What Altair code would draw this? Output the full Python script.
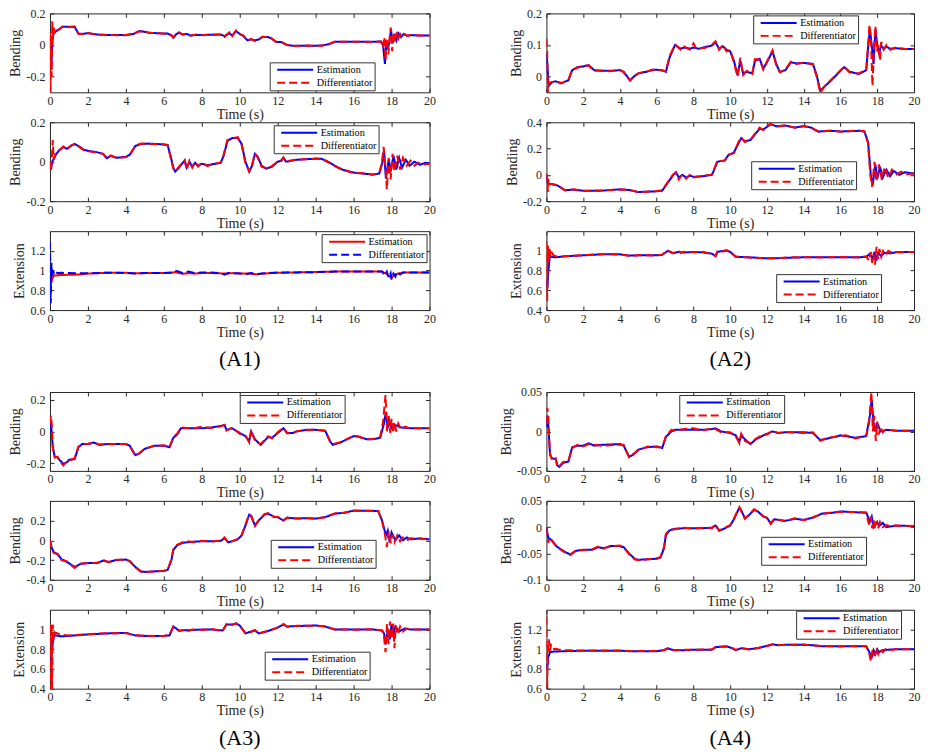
import altair as alt
import pandas as pd

FONT = "Liberation Serif"
BLUE = "#0000FF"
RED = "#FF0000"
AXC = "#262626"
WL, WR, H = 380, 368, 79

SERIES = ["Estimation", "Differentiator"]
X_TICKS = [0, 2, 4, 6, 8, 10, 12, 14, 16, 18, 20]

# ---------------- data (t, value) ----------------
A1R1_EST = [(0,0.05),(0.03,-0.05),(0.06,-0.16),(0.1,-0.05),(0.15,0.05),(0.2,0.075),(0.35,0.09),(0.5,0.1),(0.65,0.115),(1.0,0.115),(1.3,0.115),(1.5,0.072),(1.7,0.07),(2.0,0.075),(2.5,0.066),(3.0,0.063),(3.5,0.063),(4.0,0.062),(4.4,0.07),(4.7,0.088),(4.9,0.085),(5.2,0.078),(5.7,0.074),(6.2,0.072),(6.4,0.062),(6.5,0.045),(6.65,0.068),(6.8,0.078),(7.0,0.066),(7.2,0.07),(7.4,0.06),(7.7,0.064),(8.0,0.063),(8.5,0.065),(9.0,0.066),(9.2,0.056),(9.45,0.075),(9.6,0.06),(9.8,0.088),(10.0,0.07),(10.2,0.055),(10.4,0.03),(10.6,0.035),(10.8,0.03),(11.0,0.035),(11.2,0.052),(11.5,0.05),(11.7,0.04),(11.9,0.02),(12.2,0.018),(12.5,0.0),(12.8,-0.005),(13.5,-0.005),(14.3,-0.004),(14.7,0.005),(15.0,0.02),(16.0,0.02),(17.0,0.02),(17.45,0.022),(17.55,0.0),(17.65,-0.12),(17.72,0.03),(17.8,-0.03),(17.9,0.03),(17.97,0.1),(18.05,0.01),(18.15,0.07),(18.25,0.03),(18.35,0.075),(18.5,0.05),(18.65,0.07),(18.8,0.058),(19.0,0.062),(19.5,0.06),(20.0,0.06)]
A1R1_DIF = [(0,0.08),(0.03,-0.3),(0.06,0.07),(0.09,-0.2),(0.12,0.15),(0.16,0.05),(0.2,0.11),(0.25,0.07),(0.35,0.09),(0.5,0.1),(0.65,0.115),(1.0,0.113),(1.3,0.116),(1.5,0.07),(1.7,0.07),(2.0,0.075),(2.5,0.064),(3.0,0.064),(3.5,0.062),(4.0,0.063),(4.4,0.07),(4.7,0.086),(4.9,0.086),(5.2,0.077),(5.7,0.075),(6.2,0.071),(6.4,0.06),(6.5,0.047),(6.65,0.07),(6.8,0.08),(7.0,0.065),(7.2,0.072),(7.4,0.058),(7.7,0.066),(8.0,0.062),(8.5,0.066),(9.0,0.065),(9.2,0.05),(9.45,0.08),(9.6,0.055),(9.8,0.092),(10.0,0.068),(10.2,0.06),(10.4,0.028),(10.6,0.038),(10.8,0.025),(11.0,0.036),(11.2,0.05),(11.5,0.05),(11.7,0.038),(11.9,0.022),(12.2,0.016),(12.5,0.0),(12.8,-0.006),(13.5,-0.004),(14.3,-0.005),(14.7,0.006),(15.0,0.02),(16.0,0.021),(17.0,0.019),(17.45,0.022),(17.55,-0.02),(17.62,0.05),(17.68,-0.1),(17.75,0.04),(17.83,-0.06),(17.9,0.05),(17.96,0.11),(18.03,-0.04),(18.1,0.08),(18.18,0.02),(18.27,0.08),(18.35,0.04),(18.45,0.07),(18.55,0.05),(18.7,0.068),(18.85,0.057),(19.0,0.063),(19.5,0.06),(20.0,0.06)]

A1R2_EST = [(0,0.0),(0.05,-0.04),(0.12,0.0),(0.3,0.035),(0.5,0.06),(0.7,0.075),(0.9,0.065),(1.1,0.08),(1.3,0.09),(1.5,0.08),(1.8,0.06),(2.0,0.055),(2.4,0.05),(2.8,0.04),(3.0,0.018),(3.2,0.03),(3.5,0.02),(4.0,0.025),(4.2,0.035),(4.5,0.08),(4.8,0.09),(5.2,0.092),(6.0,0.088),(6.2,0.085),(6.35,0.03),(6.5,-0.03),(6.6,-0.05),(6.8,-0.03),(7.0,-0.005),(7.1,0.005),(7.2,-0.03),(7.35,0.0),(7.5,-0.025),(7.65,-0.005),(7.8,-0.02),(8.0,-0.01),(8.3,-0.018),(8.6,-0.012),(9.0,-0.005),(9.15,0.03),(9.35,0.105),(9.6,0.12),(9.9,0.12),(10.1,0.09),(10.3,0.0),(10.5,-0.05),(10.65,-0.02),(10.8,0.04),(10.95,0.025),(11.15,-0.02),(11.4,-0.035),(11.7,-0.025),(12.0,0.0),(12.2,0.005),(12.3,0.02),(12.45,0.0),(12.7,0.005),(13.0,0.01),(13.5,0.013),(14.0,0.015),(14.3,0.015),(14.6,0.003),(15.0,-0.02),(15.4,-0.04),(15.8,-0.05),(16.0,-0.055),(16.5,-0.06),(17.0,-0.065),(17.35,-0.06),(17.5,-0.01),(17.6,0.06),(17.7,-0.085),(17.85,0.01),(17.95,-0.05),(18.1,0.03),(18.25,-0.04),(18.4,0.02),(18.55,-0.03),(18.75,0.01),(18.95,-0.02),(19.2,0.0),(19.5,-0.015),(19.8,-0.005),(20.0,-0.01)]
A1R2_DIF = [(0,0.0),(0.05,-0.05),(0.1,0.02),(0.15,0.11),(0.2,0.01),(0.3,0.04),(0.5,0.058),(0.7,0.077),(0.9,0.063),(1.1,0.082),(1.3,0.09),(1.5,0.078),(1.8,0.058),(2.0,0.054),(2.4,0.048),(2.8,0.04),(3.0,0.015),(3.2,0.032),(3.5,0.02),(4.0,0.023),(4.2,0.033),(4.5,0.082),(4.8,0.092),(5.2,0.09),(6.0,0.087),(6.2,0.084),(6.35,0.025),(6.5,-0.035),(6.6,-0.05),(6.8,-0.025),(7.0,-0.002),(7.1,0.008),(7.2,-0.04),(7.35,0.005),(7.5,-0.03),(7.65,0.0),(7.8,-0.025),(8.0,-0.005),(8.3,-0.022),(8.6,-0.01),(9.0,-0.006),(9.15,0.035),(9.35,0.11),(9.6,0.118),(9.9,0.125),(10.1,0.085),(10.3,-0.005),(10.5,-0.05),(10.65,-0.015),(10.8,0.042),(10.95,0.02),(11.15,-0.025),(11.4,-0.033),(11.7,-0.022),(12.0,0.002),(12.2,0.008),(12.3,0.022),(12.45,-0.002),(12.7,0.006),(13.0,0.011),(13.5,0.012),(14.0,0.016),(14.3,0.014),(14.6,0.0),(15.0,-0.022),(15.4,-0.04),(15.8,-0.052),(16.0,-0.057),(16.5,-0.058),(17.0,-0.066),(17.35,-0.058),(17.5,0.0),(17.58,0.075),(17.68,-0.03),(17.75,-0.14),(17.85,0.02),(17.95,-0.09),(18.05,0.04),(18.15,-0.05),(18.3,0.03),(18.45,-0.04),(18.6,0.02),(18.8,-0.02),(19.0,0.005),(19.2,-0.02),(19.4,-0.005),(19.6,-0.015),(20.0,-0.01)]

A1R3_EST = [(0,0.88),(0.05,0.86),(0.12,0.92),(0.2,0.95),(0.5,0.955),(1.0,0.958),(1.5,0.96),(2.0,0.97),(3.0,0.978),(4.0,0.978),(4.5,0.972),(5.0,0.975),(6.0,0.975),(6.4,0.978),(6.6,0.985),(6.8,0.975),(7.0,0.968),(7.3,0.975),(7.6,0.97),(8.0,0.975),(8.5,0.975),(9.0,0.972),(9.3,0.97),(9.6,0.975),(10.0,0.972),(10.5,0.97),(10.9,0.962),(11.2,0.97),(12.0,0.978),(13.0,0.982),(14.0,0.985),(15.0,0.99),(16.0,0.992),(17.0,0.99),(17.5,0.99),(17.7,0.97),(17.85,0.95),(18.0,0.925),(18.15,0.96),(18.35,0.97),(18.6,0.98),(19.0,0.98),(20.0,0.982)]
A1R3_DIF = [(0,1.3),(0.04,0.67),(0.08,1.08),(0.12,0.93),(0.17,1.0),(0.22,0.96),(0.3,0.985),(0.4,0.975),(0.6,0.978),(1.0,0.975),(1.5,0.972),(2.0,0.973),(3.0,0.978),(4.0,0.977),(4.5,0.972),(5.0,0.975),(6.0,0.976),(6.4,0.98),(6.6,1.0),(6.8,0.99),(7.0,0.975),(7.3,0.99),(7.6,0.975),(8.0,0.98),(8.5,0.98),(9.0,0.975),(9.2,0.96),(9.4,0.975),(10.0,0.972),(10.3,0.962),(10.6,0.975),(10.9,0.965),(11.2,0.972),(12.0,0.98),(13.0,0.982),(14.0,0.985),(15.0,0.99),(16.0,0.992),(17.0,0.99),(17.5,0.99),(17.65,0.95),(17.75,0.99),(17.85,0.93),(17.95,0.975),(18.0,0.91),(18.1,0.97),(18.2,0.94),(18.3,0.985),(18.45,0.96),(18.6,0.98),(19.0,0.98),(20.0,0.982)]

A2R1_EST = [(0,0.07),(0.05,0.04),(0.12,-0.03),(0.3,-0.018),(0.5,-0.015),(0.8,-0.022),(1.0,-0.016),(1.2,-0.012),(1.4,0.02),(1.7,0.03),(2.0,0.032),(2.3,0.036),(2.6,0.02),(3.0,0.018),(3.5,0.018),(4.0,0.02),(4.2,0.015),(4.4,0.0),(4.55,-0.012),(4.8,0.002),(5.0,0.01),(5.5,0.016),(5.8,0.022),(6.3,0.02),(6.5,0.015),(6.7,0.06),(7.0,0.1),(7.3,0.088),(7.5,0.092),(7.8,0.088),(8.0,0.092),(8.3,0.088),(8.6,0.093),(9.0,0.098),(9.2,0.108),(9.4,0.088),(9.6,0.096),(9.8,0.085),(10.0,0.08),(10.2,0.05),(10.4,0.005),(10.55,0.05),(10.7,0.01),(10.9,0.015),(11.2,0.01),(11.35,0.05),(11.6,0.056),(11.8,0.025),(12.0,0.045),(12.3,0.08),(12.5,0.04),(12.7,0.015),(13.0,0.02),(13.3,0.045),(13.6,0.042),(14.0,0.043),(14.5,0.04),(14.7,0.005),(14.9,-0.045),(15.2,-0.028),(15.5,-0.012),(16.0,0.018),(16.2,0.03),(16.5,0.015),(17.0,0.008),(17.4,0.02),(17.5,0.09),(17.6,0.15),(17.7,0.1),(17.8,0.04),(17.9,0.15),(18.0,0.1),(18.1,0.07),(18.2,0.1),(18.35,0.088),(18.5,0.095),(18.7,0.088),(19.0,0.09),(19.5,0.087),(20.0,0.087)]
A2R1_DIF = [(0,0.12),(0.04,0.08),(0.08,-0.05),(0.15,-0.02),(0.3,-0.017),(0.5,-0.016),(0.8,-0.02),(1.0,-0.017),(1.2,-0.01),(1.4,0.022),(1.7,0.028),(2.0,0.034),(2.3,0.035),(2.6,0.018),(3.0,0.019),(3.5,0.017),(4.0,0.021),(4.2,0.014),(4.4,-0.002),(4.55,-0.013),(4.8,0.003),(5.0,0.01),(5.5,0.017),(5.8,0.021),(6.3,0.019),(6.5,0.017),(6.7,0.065),(7.0,0.102),(7.3,0.085),(7.5,0.095),(7.8,0.085),(8.0,0.105),(8.15,0.088),(8.3,0.09),(8.6,0.09),(9.0,0.1),(9.2,0.112),(9.4,0.085),(9.6,0.1),(9.8,0.08),(10.0,0.083),(10.2,0.045),(10.4,0.0),(10.55,0.06),(10.7,0.005),(10.9,0.018),(11.2,0.008),(11.35,0.055),(11.6,0.054),(11.8,0.022),(12.0,0.048),(12.3,0.083),(12.5,0.038),(12.7,0.013),(13.0,0.022),(13.3,0.047),(13.6,0.04),(14.0,0.044),(14.5,0.039),(14.7,0.0),(14.9,-0.05),(15.2,-0.026),(15.5,-0.01),(16.0,0.02),(16.2,0.032),(16.5,0.013),(17.0,0.01),(17.4,0.022),(17.5,0.1),(17.58,0.165),(17.66,0.11),(17.74,-0.03),(17.82,0.09),(17.9,0.16),(17.98,0.08),(18.06,0.1),(18.15,0.05),(18.22,0.11),(18.35,0.085),(18.5,0.1),(18.7,0.085),(19.0,0.092),(19.5,0.087),(20.0,0.087)]

A2R2_EST = [(0,0.0),(0.05,-0.05),(0.1,-0.07),(0.3,-0.07),(0.6,-0.08),(1.0,-0.115),(1.5,-0.113),(2.0,-0.12),(3.0,-0.12),(4.0,-0.11),(4.5,-0.115),(5.0,-0.13),(6.0,-0.125),(6.3,-0.12),(6.6,-0.06),(6.9,0.0),(7.05,0.02),(7.2,-0.02),(7.4,0.0),(7.6,-0.02),(7.8,-0.005),(8.0,-0.015),(8.5,-0.01),(9.0,0.0),(9.1,0.03),(9.3,0.1),(9.7,0.11),(9.9,0.15),(10.2,0.17),(10.45,0.24),(10.6,0.28),(10.8,0.255),(11.1,0.265),(11.3,0.3),(11.6,0.35),(11.8,0.345),(12.0,0.365),(12.2,0.385),(12.5,0.37),(13.0,0.375),(13.5,0.36),(14.0,0.37),(14.4,0.36),(14.8,0.33),(15.5,0.335),(16.0,0.33),(17.0,0.335),(17.3,0.33),(17.5,0.25),(17.65,0.0),(17.75,-0.08),(17.9,0.08),(18.0,-0.03),(18.15,0.06),(18.3,-0.02),(18.5,0.04),(18.7,-0.01),(18.9,0.03),(19.2,0.0),(19.5,0.02),(20.0,0.01)]
A2R2_DIF = [(0,0.01),(0.04,-0.02),(0.08,-0.13),(0.12,-0.03),(0.18,-0.07),(0.3,-0.072),(0.6,-0.078),(1.0,-0.118),(1.5,-0.11),(2.0,-0.122),(3.0,-0.118),(4.0,-0.112),(4.5,-0.113),(5.0,-0.132),(6.0,-0.123),(6.3,-0.118),(6.6,-0.055),(6.9,0.005),(7.05,0.015),(7.2,-0.035),(7.4,0.005),(7.6,-0.03),(7.8,0.0),(8.0,-0.02),(8.5,-0.008),(9.0,0.002),(9.1,0.035),(9.3,0.105),(9.7,0.108),(9.9,0.155),(10.2,0.165),(10.45,0.25),(10.6,0.285),(10.8,0.25),(11.1,0.268),(11.3,0.305),(11.6,0.36),(11.8,0.34),(12.0,0.37),(12.2,0.39),(12.5,0.365),(13.0,0.378),(13.5,0.358),(14.0,0.372),(14.4,0.358),(14.8,0.328),(15.5,0.338),(16.0,0.328),(17.0,0.337),(17.3,0.33),(17.5,0.24),(17.62,0.0),(17.72,-0.09),(17.85,0.1),(17.95,-0.05),(18.1,0.08),(18.25,-0.04),(18.4,0.06),(18.6,-0.02),(18.8,0.04),(19.0,0.0),(19.3,0.025),(19.6,0.005),(20.0,0.01)]

A2R3_EST = [(0,0.7),(0.05,0.62),(0.1,0.78),(0.18,0.94),(0.5,0.935),(1.0,0.945),(2.0,0.955),(3.0,0.965),(4.0,0.965),(4.5,0.952),(5.0,0.955),(6.0,0.955),(6.3,0.96),(6.6,1.0),(6.9,0.978),(7.2,0.99),(7.5,0.983),(8.0,0.99),(8.5,0.985),(9.0,0.972),(9.2,0.95),(9.3,0.99),(9.6,1.0),(9.8,1.003),(10.0,0.99),(10.3,0.94),(11.0,0.935),(12.0,0.925),(12.5,0.925),(13.0,0.93),(14.0,0.935),(15.0,0.935),(16.0,0.936),(17.0,0.935),(17.4,0.94),(17.6,0.97),(17.75,0.92),(17.85,0.99),(17.95,0.9),(18.05,0.98),(18.2,0.95),(18.4,0.98),(18.7,0.975),(19.0,0.985),(20.0,0.99)]
A2R3_DIF = [(0,1.1),(0.04,0.49),(0.08,1.06),(0.12,0.9),(0.17,1.02),(0.22,0.94),(0.3,0.98),(0.4,0.955),(0.6,0.94),(1.0,0.945),(2.0,0.957),(3.0,0.967),(4.0,0.963),(4.5,0.95),(5.0,0.957),(6.0,0.954),(6.3,0.962),(6.6,1.005),(6.9,0.975),(7.2,1.0),(7.3,0.98),(7.5,0.99),(8.0,0.985),(8.5,0.99),(9.0,0.97),(9.2,0.945),(9.3,0.995),(9.6,0.995),(9.8,1.007),(10.0,0.985),(10.3,0.942),(11.0,0.933),(12.0,0.923),(12.5,0.927),(13.0,0.93),(14.0,0.936),(15.0,0.934),(16.0,0.937),(17.0,0.934),(17.4,0.945),(17.55,0.9),(17.65,0.99),(17.72,0.88),(17.8,0.97),(17.88,0.86),(17.96,1.04),(18.04,0.92),(18.12,1.02),(18.22,0.94),(18.32,1.0),(18.45,0.96),(18.6,1.0),(18.8,0.98),(19.0,0.99),(20.0,0.99)]

A3R1_EST = [(0,0.04),(0.05,0.06),(0.15,-0.1),(0.25,-0.16),(0.4,-0.165),(0.5,-0.18),(0.7,-0.205),(0.9,-0.195),(1.0,-0.18),(1.3,-0.175),(1.5,-0.1),(1.7,-0.08),(2.0,-0.08),(2.3,-0.07),(2.6,-0.085),(3.0,-0.08),(4.0,-0.08),(4.2,-0.09),(4.5,-0.15),(4.7,-0.14),(5.0,-0.11),(5.5,-0.09),(6.0,-0.09),(6.3,-0.1),(6.5,-0.04),(6.7,-0.02),(6.9,0.02),(7.5,0.02),(8.0,0.02),(8.5,0.025),(9.0,0.035),(9.2,0.04),(9.3,0.01),(9.6,0.02),(10.0,-0.01),(10.3,-0.03),(10.5,-0.06),(10.6,0.0),(10.8,-0.05),(11.1,-0.085),(11.3,-0.06),(11.5,-0.035),(11.7,-0.04),(12.0,-0.01),(12.3,0.02),(12.5,-0.01),(12.8,-0.01),(13.0,0.0),(13.5,0.01),(14.0,0.01),(14.5,0.005),(14.8,-0.07),(14.9,-0.085),(15.3,-0.07),(16.0,-0.03),(16.2,-0.03),(16.7,-0.05),(17.0,-0.05),(17.4,-0.04),(17.6,0.05),(17.7,0.12),(17.8,0.02),(17.9,0.06),(18.0,0.02),(18.2,0.04),(18.5,0.025),(19.0,0.02),(20.0,0.02)]
A3R1_DIF = [(0,0.05),(0.05,0.1),(0.1,0.04),(0.15,-0.1),(0.25,-0.165),(0.4,-0.16),(0.5,-0.185),(0.7,-0.215),(0.9,-0.19),(1.0,-0.185),(1.3,-0.17),(1.5,-0.095),(1.7,-0.082),(2.0,-0.078),(2.3,-0.072),(2.6,-0.083),(3.0,-0.081),(4.0,-0.079),(4.2,-0.092),(4.5,-0.155),(4.7,-0.138),(5.0,-0.108),(5.5,-0.092),(6.0,-0.088),(6.3,-0.102),(6.5,-0.035),(6.7,-0.015),(6.9,0.025),(7.5,0.018),(8.0,0.03),(8.5,0.022),(9.0,0.032),(9.2,0.042),(9.3,0.005),(9.6,0.025),(10.0,-0.015),(10.3,-0.025),(10.5,-0.07),(10.6,0.01),(10.8,-0.06),(11.1,-0.08),(11.3,-0.055),(11.5,-0.03),(11.7,-0.045),(12.0,-0.005),(12.3,0.025),(12.5,-0.012),(12.8,-0.008),(13.0,0.002),(13.5,0.008),(14.0,0.012),(14.5,0.003),(14.8,-0.075),(14.9,-0.08),(15.3,-0.068),(16.0,-0.028),(16.2,-0.032),(16.7,-0.05),(17.0,-0.048),(17.4,-0.035),(17.55,0.06),(17.68,0.23),(17.76,0.0),(17.85,0.1),(17.93,-0.01),(18.0,0.08),(18.08,-0.01),(18.15,0.06),(18.25,0.0),(18.35,0.05),(18.5,0.01),(18.7,0.03),(19.0,0.02),(20.0,0.02)]

A3R2_EST = [(0,0.0),(0.1,-0.08),(0.2,-0.12),(0.4,-0.14),(0.6,-0.19),(0.9,-0.22),(1.3,-0.27),(1.6,-0.24),(2.0,-0.23),(2.5,-0.23),(2.8,-0.205),(3.1,-0.22),(3.5,-0.2),(4.0,-0.195),(4.2,-0.21),(4.5,-0.27),(4.8,-0.315),(5.0,-0.32),(6.0,-0.31),(6.2,-0.3),(6.4,-0.2),(6.5,-0.1),(6.7,-0.05),(7.0,-0.025),(7.5,-0.015),(8.0,-0.01),(8.5,-0.01),(9.0,-0.005),(9.2,0.02),(9.4,-0.02),(9.6,-0.01),(9.9,0.01),(10.1,0.05),(10.3,0.15),(10.5,0.26),(10.6,0.25),(10.8,0.15),(11.0,0.2),(11.3,0.26),(11.5,0.27),(11.8,0.24),(12.0,0.235),(12.3,0.2),(12.5,0.23),(13.0,0.22),(13.5,0.225),(14.0,0.22),(14.5,0.235),(15.0,0.27),(15.5,0.28),(16.0,0.3),(17.0,0.3),(17.3,0.295),(17.5,0.2),(17.7,0.05),(17.8,0.1),(17.9,-0.02),(18.0,0.08),(18.2,0.0),(18.4,0.05),(18.6,0.0),(18.8,0.03),(19.0,0.01),(19.5,0.02),(20.0,0.01)]
A3R2_DIF = [(0,0.0),(0.1,-0.1),(0.15,-0.11),(0.2,-0.13),(0.4,-0.135),(0.6,-0.2),(0.9,-0.215),(1.3,-0.28),(1.6,-0.235),(2.0,-0.232),(2.5,-0.228),(2.8,-0.2),(3.1,-0.222),(3.5,-0.198),(4.0,-0.197),(4.2,-0.212),(4.5,-0.275),(4.8,-0.318),(5.0,-0.322),(6.0,-0.308),(6.2,-0.302),(6.4,-0.19),(6.5,-0.09),(6.7,-0.045),(7.0,-0.02),(7.3,-0.01),(7.5,-0.02),(8.0,-0.005),(8.5,-0.012),(9.0,-0.003),(9.2,0.03),(9.4,-0.025),(9.6,-0.008),(9.9,0.015),(10.1,0.055),(10.3,0.16),(10.5,0.265),(10.6,0.245),(10.8,0.145),(11.0,0.205),(11.3,0.265),(11.5,0.275),(11.8,0.235),(12.0,0.238),(12.3,0.205),(12.5,0.228),(13.0,0.222),(13.5,0.223),(14.0,0.222),(14.5,0.233),(15.0,0.272),(15.5,0.278),(16.0,0.302),(17.0,0.298),(17.3,0.297),(17.5,0.19),(17.65,0.06),(17.75,-0.07),(17.85,0.09),(17.95,-0.03),(18.05,0.06),(18.15,-0.02),(18.3,0.05),(18.45,-0.01),(18.6,0.03),(18.8,0.0),(19.0,0.02),(19.5,0.015),(20.0,0.01)]

A3R3_EST = [(0,0.67),(0.05,0.6),(0.1,0.8),(0.2,0.93),(0.3,0.94),(0.6,0.93),(1.0,0.935),(2.0,0.95),(3.0,0.96),(4.0,0.965),(4.5,0.94),(5.0,0.935),(6.0,0.935),(6.3,0.94),(6.5,1.03),(6.8,0.99),(7.5,0.995),(8.0,1.0),(8.5,1.0),(9.1,0.99),(9.3,1.05),(9.6,1.05),(9.8,1.06),(10.0,1.04),(10.3,0.96),(10.6,0.98),(10.8,0.99),(11.0,0.96),(11.5,0.985),(12.0,1.02),(12.3,1.05),(12.5,1.03),(13.0,1.035),(14.0,1.04),(14.5,1.03),(15.0,1.0),(16.0,1.0),(17.0,1.0),(17.5,0.99),(17.6,0.96),(17.7,0.85),(17.8,1.0),(17.9,0.9),(18.0,1.05),(18.1,0.95),(18.2,1.03),(18.4,0.98),(18.7,1.01),(19.0,1.0),(20.0,1.0)]
A3R3_DIF = [(0,1.05),(0.03,0.4),(0.07,1.05),(0.11,0.4),(0.15,1.05),(0.2,0.9),(0.25,0.97),(0.4,0.96),(0.6,0.945),(1.0,0.94),(2.0,0.952),(3.0,0.962),(4.0,0.963),(4.5,0.942),(5.0,0.936),(6.0,0.934),(6.3,0.945),(6.5,1.03),(6.8,0.985),(7.2,1.0),(7.3,0.985),(7.5,1.0),(8.0,0.995),(8.5,1.005),(9.1,0.985),(9.3,1.055),(9.6,1.045),(9.8,1.065),(10.0,1.035),(10.3,0.965),(10.6,0.975),(10.8,0.995),(11.0,0.958),(11.5,0.988),(12.0,1.018),(12.3,1.055),(12.5,1.028),(13.0,1.037),(14.0,1.038),(14.5,1.032),(15.0,1.0),(16.0,0.998),(17.0,1.002),(17.5,0.99),(17.6,0.93),(17.68,0.77),(17.76,1.06),(17.84,0.85),(17.92,1.08),(18.0,0.9),(18.08,1.06),(18.15,0.81),(18.22,1.04),(18.32,0.95),(18.45,1.03),(18.6,0.98),(18.8,1.01),(19.0,1.0),(20.0,1.0)]

A4R1_EST = [(0,0.005),(0.05,0.02),(0.1,0.01),(0.15,-0.01),(0.2,-0.03),(0.3,-0.034),(0.5,-0.035),(0.6,-0.043),(0.7,-0.045),(0.9,-0.04),(1.2,-0.038),(1.4,-0.02),(1.7,-0.018),(2.0,-0.018),(2.3,-0.015),(2.6,-0.018),(3.0,-0.017),(4.0,-0.016),(4.2,-0.018),(4.5,-0.032),(4.7,-0.03),(5.0,-0.023),(5.5,-0.02),(6.0,-0.019),(6.3,-0.021),(6.5,-0.007),(6.8,0.0),(7.0,0.002),(8.0,0.002),(8.5,0.002),(9.0,0.003),(9.2,0.004),(9.5,0.0),(10.0,-0.002),(10.3,-0.005),(10.5,-0.013),(10.6,-0.005),(10.8,-0.01),(11.1,-0.016),(11.4,-0.01),(11.8,-0.005),(12.0,-0.003),(12.3,0.0),(12.6,-0.002),(13.0,-0.001),(14.0,-0.001),(14.5,-0.002),(14.9,-0.011),(15.3,-0.009),(16.0,-0.005),(16.3,-0.006),(16.8,-0.008),(17.4,-0.006),(17.6,0.02),(17.7,0.04),(17.8,0.01),(17.9,0.0),(18.0,0.01),(18.2,0.0),(18.5,0.002),(19.0,0.001),(20.0,0.001)]
A4R1_DIF = [(0,0.01),(0.05,0.03),(0.1,0.02),(0.15,-0.012),(0.2,-0.028),(0.3,-0.036),(0.5,-0.034),(0.6,-0.046),(0.7,-0.044),(0.9,-0.039),(1.2,-0.037),(1.4,-0.021),(1.7,-0.017),(2.0,-0.019),(2.3,-0.016),(2.6,-0.017),(3.0,-0.018),(4.0,-0.017),(4.2,-0.017),(4.5,-0.033),(4.7,-0.029),(5.0,-0.024),(5.5,-0.019),(6.0,-0.02),(6.3,-0.02),(6.5,-0.006),(6.8,0.002),(7.0,0.001),(7.5,0.003),(8.0,0.004),(8.5,0.001),(9.0,0.004),(9.2,0.003),(9.5,-0.001),(10.0,-0.001),(10.3,-0.006),(10.5,-0.015),(10.6,-0.003),(10.8,-0.012),(11.1,-0.015),(11.4,-0.009),(11.8,-0.004),(12.0,-0.004),(12.3,0.001),(12.6,-0.002),(13.0,-0.001),(14.0,-0.002),(14.5,-0.001),(14.9,-0.012),(15.3,-0.008),(16.0,-0.006),(16.3,-0.005),(16.8,-0.009),(17.4,-0.005),(17.55,0.01),(17.68,0.05),(17.76,0.0),(17.84,0.02),(17.92,-0.012),(18.0,0.012),(18.08,-0.004),(18.18,0.006),(18.3,-0.001),(18.5,0.003),(19.0,0.001),(20.0,0.001)]

A4R2_EST = [(0,0.0),(0.05,-0.01),(0.1,-0.02),(0.3,-0.025),(0.5,-0.035),(0.7,-0.04),(1.0,-0.047),(1.3,-0.052),(1.6,-0.045),(2.0,-0.043),(2.5,-0.043),(2.8,-0.038),(3.1,-0.04),(3.5,-0.036),(4.0,-0.036),(4.2,-0.038),(4.5,-0.05),(4.8,-0.06),(5.0,-0.062),(6.0,-0.06),(6.2,-0.058),(6.4,-0.04),(6.5,-0.015),(6.7,-0.006),(7.0,-0.003),(7.5,-0.002),(8.0,-0.002),(8.5,-0.002),(9.0,-0.001),(9.2,0.003),(9.4,-0.006),(9.6,-0.004),(10.0,0.003),(10.2,0.015),(10.4,0.03),(10.5,0.037),(10.6,0.032),(10.8,0.017),(11.0,0.022),(11.3,0.033),(11.5,0.03),(11.8,0.02),(12.0,0.018),(12.2,0.007),(12.4,0.015),(13.0,0.012),(13.5,0.016),(14.0,0.014),(14.5,0.018),(15.0,0.026),(15.5,0.027),(16.0,0.03),(17.0,0.028),(17.4,0.028),(17.6,0.01),(17.7,0.02),(17.8,0.0),(18.0,0.01),(18.1,0.002),(18.3,0.008),(18.5,0.0),(19.0,0.003),(20.0,0.002)]
A4R2_DIF = [(0,0.0),(0.05,-0.015),(0.1,-0.03),(0.15,-0.02),(0.3,-0.026),(0.5,-0.034),(0.7,-0.041),(1.0,-0.048),(1.3,-0.053),(1.6,-0.044),(2.0,-0.044),(2.5,-0.042),(2.8,-0.037),(3.1,-0.041),(3.5,-0.036),(4.0,-0.035),(4.2,-0.039),(4.5,-0.051),(4.8,-0.061),(5.0,-0.063),(6.0,-0.059),(6.2,-0.057),(6.4,-0.038),(6.5,-0.013),(6.7,-0.005),(7.0,-0.004),(7.5,-0.001),(8.0,-0.003),(8.5,-0.001),(9.0,-0.002),(9.2,0.005),(9.4,-0.007),(9.6,-0.003),(10.0,0.004),(10.2,0.016),(10.4,0.031),(10.5,0.038),(10.6,0.03),(10.8,0.016),(11.0,0.023),(11.3,0.034),(11.5,0.029),(11.8,0.021),(12.0,0.017),(12.2,0.006),(12.4,0.016),(13.0,0.011),(13.5,0.017),(14.0,0.013),(14.5,0.019),(15.0,0.025),(15.5,0.028),(16.0,0.029),(17.0,0.029),(17.4,0.027),(17.55,0.005),(17.65,0.02),(17.72,-0.002),(17.8,0.014),(17.88,-0.003),(17.96,0.012),(18.05,-0.002),(18.15,0.01),(18.3,0.0),(18.5,0.004),(18.8,0.001),(19.0,0.003),(20.0,0.002)]

A4R3_EST = [(0,0.85),(0.05,0.8),(0.1,0.92),(0.2,0.97),(0.3,0.975),(1.0,0.98),(2.0,0.985),(3.0,0.985),(4.0,0.985),(4.5,0.98),(5.0,0.98),(6.0,0.98),(6.4,0.99),(6.6,1.01),(6.9,0.99),(7.5,0.99),(8.0,0.995),(9.0,0.995),(9.2,1.02),(9.8,1.03),(10.1,1.01),(10.3,0.99),(10.6,1.01),(11.0,1.0),(11.5,1.01),(12.0,1.035),(12.3,1.05),(12.6,1.04),(13.0,1.045),(14.0,1.045),(14.5,1.04),(15.0,1.03),(16.0,1.03),(17.0,1.03),(17.4,1.03),(17.6,0.96),(17.7,0.92),(17.8,0.99),(17.9,0.95),(18.0,1.0),(18.1,0.97),(18.3,0.99),(18.6,0.995),(19.0,1.0),(20.0,1.0)]
A4R3_DIF = [(0,1.33),(0.04,0.6),(0.08,1.0),(0.13,1.1),(0.18,0.98),(0.25,1.04),(0.35,1.0),(0.5,1.005),(0.7,0.995),(1.0,0.99),(2.0,0.987),(3.0,0.987),(4.0,0.986),(4.5,0.982),(5.0,0.981),(6.0,0.982),(6.4,0.992),(6.6,1.005),(6.9,0.995),(7.3,0.992),(7.5,0.995),(8.0,0.993),(8.5,0.998),(9.0,0.996),(9.2,1.022),(9.8,1.027),(10.1,1.012),(10.3,0.992),(10.6,1.012),(11.0,0.998),(11.5,1.012),(12.0,1.033),(12.3,1.048),(12.6,1.042),(13.0,1.043),(14.0,1.047),(14.5,1.038),(15.0,1.032),(16.0,1.028),(17.0,1.032),(17.4,1.03),(17.55,0.97),(17.65,0.88),(17.75,1.0),(17.85,0.93),(17.95,1.01),(18.05,0.95),(18.15,1.0),(18.3,0.97),(18.45,1.0),(18.7,0.99),(19.0,1.0),(20.0,1.0)]

# y-axis domains / ticks per panel
PANELS = {
    "A1R1": dict(est=A1R1_EST, dif=A1R1_DIF, ylab="Bending", dom=[-0.3, 0.2], ticks=[-0.2, 0, 0.2], cols=[BLUE, RED], leg=(220, 49), w=WL),
    "A1R2": dict(est=A1R2_EST, dif=A1R2_DIF, ylab="Bending", dom=[-0.2, 0.2], ticks=[-0.2, 0, 0.2], cols=[BLUE, RED], leg=(224, 3), w=WL),
    "A1R3": dict(est=A1R3_EST, dif=A1R3_DIF, ylab="Extension", dom=[0.6, 1.4], ticks=[0.6, 0.8, 1, 1.2], cols=[RED, BLUE], leg=(272, 3), w=WL),
    "A2R1": dict(est=A2R1_EST, dif=A2R1_DIF, ylab="Bending", dom=[-0.05, 0.2], ticks=[0, 0.1, 0.2], cols=[BLUE, RED], leg=(207, 2), w=WR),
    "A2R2": dict(est=A2R2_EST, dif=A2R2_DIF, ylab="Bending", dom=[-0.2, 0.4], ticks=[-0.2, 0, 0.2, 0.4], cols=[BLUE, RED], leg=(205, 39), w=WR),
    "A2R3": dict(est=A2R3_EST, dif=A2R3_DIF, ylab="Extension", dom=[0.4, 1.2], ticks=[0.4, 0.6, 0.8, 1], cols=[BLUE, RED], leg=(230, 43), w=WR),
    "A3R1": dict(est=A3R1_EST, dif=A3R1_DIF, ylab="Bending", dom=[-0.25, 0.25], ticks=[-0.2, 0, 0.2], cols=[BLUE, RED], leg=(190, 3), w=WL),
    "A3R2": dict(est=A3R2_EST, dif=A3R2_DIF, ylab="Bending", dom=[-0.4, 0.4], ticks=[-0.4, -0.2, 0, 0.2], cols=[BLUE, RED], leg=(221, 39), w=WL),
    "A3R3": dict(est=A3R3_EST, dif=A3R3_DIF, ylab="Extension", dom=[0.4, 1.2], ticks=[0.4, 0.6, 0.8, 1], cols=[BLUE, RED], leg=(215, 42), w=WL),
    "A4R1": dict(est=A4R1_EST, dif=A4R1_DIF, ylab="Bending", dom=[-0.05, 0.05], ticks=[-0.05, 0, 0.05], cols=[BLUE, RED], leg=(133, 3), w=WR),
    "A4R2": dict(est=A4R2_EST, dif=A4R2_DIF, ylab="Bending", dom=[-0.1, 0.05], ticks=[-0.1, -0.05, 0, 0.05], cols=[BLUE, RED], leg=(215, 36), w=WR),
    "A4R3": dict(est=A4R3_EST, dif=A4R3_DIF, ylab="Extension", dom=[0.6, 1.4], ticks=[0.6, 0.8, 1, 1.2], cols=[BLUE, RED], leg=(250, 1), w=WR),
}


def panel(key, label=None):
    cfg = PANELS[key]
    w = cfg["w"]
    rows = [{"t": t, "v": v, "series": "Estimation"} for t, v in cfg["est"]]
    rows += [{"t": t, "v": v, "series": "Differentiator"} for t, v in cfg["dif"]]
    df = pd.DataFrame(rows)
    lx, ly = cfg["leg"]
    lg = alt.Legend(
        title=None, orient="none", legendX=lx, legendY=ly,
        symbolType="M-4.0,0H4.0", symbolSize=81, symbolStrokeWidth=2,
        symbolOffset=18, labelOffset=16, labelFont=FONT, labelFontSize=10.2,
        labelColor="black", labelLimit=0, rowPadding=2, padding=2,
        strokeColor="#333333", fillColor="white", symbolFillColor="transparent",
    )
    color = alt.Color("series:N", scale=alt.Scale(domain=SERIES, range=cfg["cols"]), legend=lg)
    dash = alt.StrokeDash("series:N", scale=alt.Scale(domain=SERIES, range=[[1, 0], [8, 4]]), legend=lg)
    x = alt.X("t:Q", scale=alt.Scale(domain=[0, 20], nice=False),
              axis=alt.Axis(values=X_TICKS, format="d", title="Time (s)", grid=True,
                            gridDash=[4, H - 8, 4, H], gridColor=AXC, gridOpacity=1, gridWidth=1,
                            ticks=False, tickSize=0, domain=False, labelPadding=3, titlePadding=1,
                            labelFlush=False, labelOverlap=False))
    y = alt.Y("v:Q", scale=alt.Scale(domain=cfg["dom"], nice=False, zero=False),
              axis=alt.Axis(values=cfg["ticks"], labelExpr="datum.value + ''", title=cfg["ylab"],
                            grid=True, gridDash=[4, w - 8, 4, w], gridColor=AXC, gridOpacity=1,
                            gridWidth=1, ticks=False, tickSize=0, domain=False, labelPadding=5,
                            titlePadding=3, labelFlush=False, labelOverlap=False))
    base = alt.Chart(df).encode(x=x, y=y, color=color, strokeDash=dash, order="t:Q")
    est = base.transform_filter(alt.datum.series == "Estimation").mark_line(strokeWidth=2, clip=True)
    dif = base.transform_filter(alt.datum.series == "Differentiator").mark_line(strokeWidth=2, clip=True)
    ch = alt.layer(est, dif).properties(width=w, height=H)
    if label:
        ch = ch.properties(title=alt.TitleParams(text=label, orient="bottom", anchor="middle",
                                                 frame="group", font=FONT, fontSize=22,
                                                 fontWeight="normal", color="black", offset=10))
    return ch


def spacer(w):
    return alt.Chart(pd.DataFrame({"t": [0]})).mark_point(opacity=0).encode(
        x=alt.value(0), y=alt.value(0)
    ).properties(width=w, height=22, view=alt.ViewBackground(stroke="transparent"))


cells = [
    panel("A1R1"), panel("A2R1"),
    panel("A1R2"), panel("A2R2"),
    panel("A1R3", "(A1)"), panel("A2R3", "(A2)"),
    spacer(WL), spacer(WR),
    panel("A3R1"), panel("A4R1"),
    panel("A3R2"), panel("A4R2"),
    panel("A3R3", "(A3)"), panel("A4R3", "(A4)"),
]

chart = alt.concat(*cells, columns=2, spacing={"row": 30, "column": 117}, bounds="flush").resolve_scale(
    color="independent", strokeDash="independent"
).resolve_legend(
    color="independent", strokeDash="independent"
).properties(
    padding={"left": 0, "top": -2, "right": 0, "bottom": 0}, background="white"
).configure_view(
    stroke=AXC, strokeWidth=1
).configure_axis(
    labelFont=FONT, titleFont=FONT, labelFontSize=12, titleFontSize=14,
    titleFontWeight="normal", labelColor=AXC, titleColor=AXC
).configure_legend(
    labelFont=FONT
)

chart.save("out.html", embed_options={"renderer": "svg", "actions": False})
